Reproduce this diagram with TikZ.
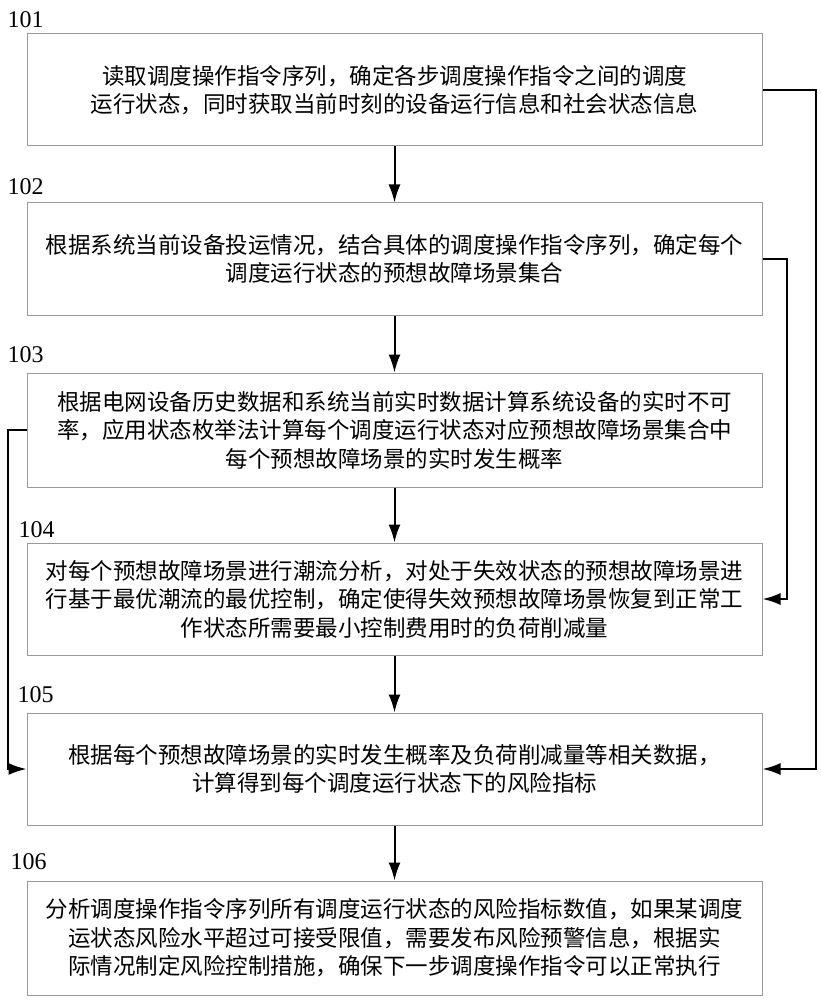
\documentclass[tikz,border=0pt]{standalone}
\usepackage{fontspec}
\setmainfont{Liberation Serif}
\newfontfamily\cjk{Noto Sans CJK SC}
\usetikzlibrary{arrows.meta,calc}
\newcommand{\bw}{735}

\begin{document}
\begin{tikzpicture}[x=1pt,y=-1pt,
  stepbox/.style={draw=black!40,line width=1pt,minimum width=\bw pt,minimum height=112pt,
    inner sep=0pt,align=center,font=\cjk\fontsize{22.5}{28.5}\selectfont},
  numlabel/.style={anchor=west,inner sep=0pt,font=\fontsize{24}{26}\selectfont},
  flow/.style={line width=2pt,-{Latex[length=18pt,width=12pt]}}]
\useasboundingbox (0,0) rectangle (820,1000);
\coordinate (o) at (394.5,90);
\node[stepbox] (b101) at (o) {读取调度操作指令序列，确定各步调度操作指令之间的调度\\运行状态，同时获取当前时刻的设备运行信息和社会状态信息};
\node[stepbox] (b102) at ($(o)+(0,169)$) {根据系统当前设备投运情况，结合具体的调度操作指令序列，确定每个\\调度运行状态的预想故障场景集合};
\node[stepbox,minimum height=114pt] (b103) at ($(o)+(0,340)$) {根据电网设备历史数据和系统当前实时数据计算系统设备的实时不可\\率，应用状态枚举法计算每个调度运行状态对应预想故障场景集合中\\每个预想故障场景的实时发生概率};
\node[stepbox] (b104) at ($(o)+(0,509)$) {对每个预想故障场景进行潮流分析，对处于失效状态的预想故障场景进\\行基于最优潮流的最优控制，确定使得失效预想故障场景恢复到正常工\\作状态所需要最小控制费用时的负荷削减量};
\node[stepbox] (b105) at ($(o)+(0,679)$) {根据每个预想故障场景的实时发生概率及负荷削减量等相关数据，\\计算得到每个调度运行状态下的风险指标};
\node[stepbox,minimum height=114pt] (b106) at ($(o)+(0,848)$) {分析调度操作指令序列所有调度运行状态的风险指标数值，如果某调度\\运状态风险水平超过可接受限值，需要发布风险预警信息，根据实\\际情况制定风险控制措施，确保下一步调度操作指令可以正常执行};
% step numbers
\foreach \h/\dx/\dy in {101/-19/14,102/-19/16,103/-19/18,104/-8/13,105/-9/18,106/-16/19}{
\node[numlabel] (l\h) at ([xshift=\dx pt,yshift=\dy pt]b\h.north west) {\h};
}
% main flow
\draw[flow] (b101) -- (b102);
\draw[flow] (b102) -- (b103);
\draw[flow] (b103) -- (b104);
\draw[flow] (b104) -- (b105);
\draw[flow] (b105) -- (b106);
% side paths
\draw[flow] (b101.east) -- ++(53,0) |- (b105.east);
\draw[flow] (b102.east) -- ++(24,0) |- (b104.east);
\draw[flow] (b103.west) -- ++(-19,0) |- (b105.west);
\end{tikzpicture}
\end{document}
